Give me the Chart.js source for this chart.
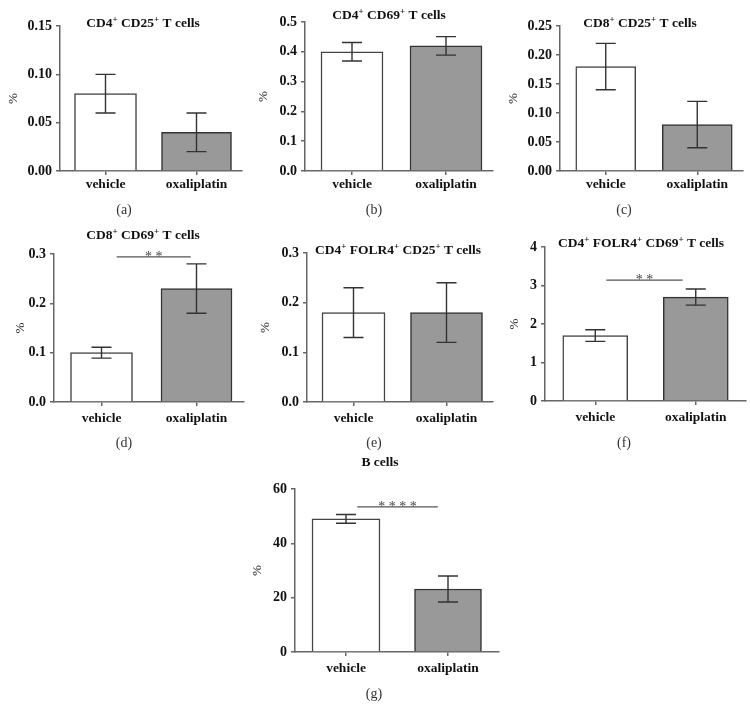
<!DOCTYPE html>
<html><head><meta charset="utf-8">
<script src="https://cdn.jsdelivr.net/npm/chart.js@4.4.1/dist/chart.umd.min.js"></script>
<style>
html,body{margin:0;padding:0;background:#fff;}
body{width:750px;height:721px;position:relative;overflow:hidden;}
canvas{position:absolute;}
</style></head><body>
<script>
// ---------------- DATA ----------------
const categories = ['vehicle', 'oxaliplatin'];

const meansA = [0.08, 0.04];  const errA = [0.02, 0.02];
const meansB = [0.40, 0.42];  const errB = [0.031, 0.031];
const meansC = [0.18, 0.08];  const errC = [0.04, 0.04];
const meansD = [0.10, 0.23];  const errD = [0.011, 0.05];
const meansE = [0.18, 0.18];  const errE = [0.05, 0.06];
const meansF = [1.70, 2.70];  const errF = [0.15, 0.21];
const meansG = [49.0, 23.2];  const errG = [1.6, 4.8];

const ticksA = ['0.00', '0.05', '0.10', '0.15'];
const ticksB = ['0.0', '0.1', '0.2', '0.3', '0.4', '0.5'];
const ticksC = ['0.00', '0.05', '0.10', '0.15', '0.20', '0.25'];
const ticksD = ['0.0', '0.1', '0.2', '0.3'];
const ticksE = ['0.0', '0.1', '0.2', '0.3'];
const ticksF = ['0', '1', '2', '3', '4'];
const ticksG = ['0', '20', '40', '60'];

// significance brackets: from/to in category index units, level in data units
const sigD = {from: 0.16, to: 0.94, level: 0.294, label: '**'};
const sigF = {from: 0.11, to: 0.87, level: 3.14, label: '**'};
const sigG = {from: 0.11, to: 0.90, level: 53.4, label: '****'};

const titleA = [['CD4'], ['+', 1], [' CD25'], ['+', 1], [' T cells']];
const titleB = [['CD4'], ['+', 1], [' CD69'], ['+', 1], [' T cells']];
const titleC = [['CD8'], ['+', 1], [' CD25'], ['+', 1], [' T cells']];
const titleD = [['CD8'], ['+', 1], [' CD69'], ['+', 1], [' T cells']];
const titleE = [['CD4'], ['+', 1], [' FOLR4'], ['+', 1], [' CD25'], ['+', 1], [' T cells']];
const titleF = [['CD4'], ['+', 1], [' FOLR4'], ['+', 1], [' CD69'], ['+', 1], [' T cells']];
const titleG = [['B cells']];

// ---------------- LAYOUT (page pixels) ----------------
const FAM = '"Liberation Serif", "Times New Roman", serif';
const panels = [
  {id:'a', means:meansA, errs:errA, ticks:ticksA, title:titleA, cap:'(a)', sig:null,
   box:[0,0,250,225], area:[60,242,26,171], titlePos:[143,27], capPos:[124,210], labelPad:1, bw:[62,70]},
  {id:'b', means:meansB, errs:errB, ticks:ticksB, title:titleB, cap:'(b)', sig:null,
   box:[250,0,250,225], area:[305,493,22,171], titlePos:[389,19], capPos:[374,210], labelPad:1, bw:[62,72]},
  {id:'c', means:meansC, errs:errC, ticks:ticksC, title:titleC, cap:'(c)', sig:null,
   box:[500,0,250,225], area:[560,743,26,171], titlePos:[640,27], capPos:[624,210], labelPad:1, bw:[60,70]},
  {id:'d', means:meansD, errs:errD, ticks:ticksD, title:titleD, cap:'(d)', sig:sigD,
   box:[7,225,243,235], area:[54,244,254,402], titlePos:[143,239], capPos:[124,443], labelPad:4, bw:[62,71]},
  {id:'e', means:meansE, errs:errE, ticks:ticksE, title:titleE, cap:'(e)', sig:null,
   box:[252,225,248,235], area:[307,493,253,402], titlePos:[398,254], capPos:[374,443], labelPad:4, bw:[63,72]},
  {id:'f', means:meansF, errs:errF, ticks:ticksF, title:titleF, cap:'(f)', sig:sigF,
   box:[501,225,249,235], area:[545,746,247,401], titlePos:[641,247], capPos:[624,443], labelPad:4, bw:[65,65]},
  {id:'g', means:meansG, errs:errG, ticks:ticksG, title:titleG, cap:'(g)', sig:sigG,
   box:[244,445,270,265], area:[295,499,489,652], titlePos:[380,466], capPos:[374,694], labelPad:4, bw:[68,67]}
];

// ---------------- PLUGINS ----------------
const decor = {
  id: 'decor',
  afterDatasetsDraw(chart, args, o) {
    const {ctx} = chart;
    const x = chart.scales.x, y = chart.scales.y;
    ctx.save();
    // error bars
    ctx.strokeStyle = '#333'; ctx.lineWidth = 1.4;
    o.means.forEach((m, i) => {
      const el = chart.getDatasetMeta(i).data[i];
      const px = el.x;
      const yt = y.getPixelForValue(m + o.errs[i]);
      const yb = y.getPixelForValue(m - o.errs[i]);
      ctx.beginPath();
      ctx.moveTo(px, yt); ctx.lineTo(px, yb);
      ctx.moveTo(px - 10, yt); ctx.lineTo(px + 10, yt);
      ctx.moveTo(px - 10, yb); ctx.lineTo(px + 10, yb);
      ctx.stroke();
    });
    // significance
    if (o.sig) {
      const x1 = x.getPixelForValue(o.sig.from), x2 = x.getPixelForValue(o.sig.to);
      const yy = y.getPixelForValue(o.sig.level);
      ctx.strokeStyle = '#555'; ctx.lineWidth = 1.3;
      ctx.beginPath(); ctx.moveTo(x1, yy); ctx.lineTo(x2, yy); ctx.stroke();
      ctx.fillStyle = '#444'; ctx.font = '14px ' + FAM;
      ctx.textAlign = 'center'; ctx.textBaseline = 'alphabetic';
      ctx.fillText(o.sig.label.split('').join(' '), (x1 + x2) / 2, yy + 4);
    }
    ctx.restore();
  },
  afterDraw(chart, args, o) {
    const {ctx} = chart;
    ctx.save();
    const big = 'bold 13.5px ' + FAM, small = 'bold 9px ' + FAM;
    let w = 0;
    const segs = o.title.map(s => {
      ctx.font = s[1] ? small : big;
      const sw = ctx.measureText(s[0]).width; w += sw;
      return {t: s[0], sup: !!s[1], w: sw};
    });
    let tx = o.titlePos[0] - w / 2;
    ctx.fillStyle = '#111'; ctx.textAlign = 'left'; ctx.textBaseline = 'alphabetic';
    segs.forEach(s => {
      ctx.font = s.sup ? small : big;
      ctx.fillText(s.t, tx, s.sup ? o.titlePos[1] - 5 : o.titlePos[1]);
      tx += s.w;
    });
    ctx.font = '14px ' + FAM; ctx.fillStyle = '#333'; ctx.textAlign = 'center'; ctx.textBaseline = 'middle';
    ctx.fillText(o.cap, o.capPos[0], o.capPos[1]);
    ctx.restore();
  }
};

// ---------------- BUILD ----------------
panels.forEach(p => {
  const [bl, bt, bw, bh] = p.box;
  const [al, ar, at, ab] = p.area;
  const cv = document.createElement('canvas');
  cv.width = bw; cv.height = bh;
  cv.style.left = bl + 'px'; cv.style.top = bt + 'px';
  cv.style.width = bw + 'px'; cv.style.height = bh + 'px';
  document.body.appendChild(cv);
  const tickVals = p.ticks.map(parseFloat);
  const axisCol = '#666';
  new Chart(cv, {
    type: 'bar',
    data: {
      labels: categories,
      datasets: [
        {data: [p.means[0], null], backgroundColor: '#ffffff', borderColor: '#444', borderWidth: 1.5, barThickness: p.bw[0]},
        {data: [null, p.means[1]], backgroundColor: '#999999', borderColor: '#333', borderWidth: 1.5, barThickness: p.bw[1]}
      ]
    },
    options: {
      responsive: false, animation: false, events: [],
      devicePixelRatio: 1,
      datasets: {bar: {grouped: false}},
      layout: {padding: {left: 0, top: at - bt, right: (bl + bw) - ar, bottom: 0}},
      plugins: {
        legend: {display: false}, title: {display: false}, tooltip: {enabled: false},
        decor: {means: p.means, errs: p.errs, sig: p.sig, title: p.title, cap: p.cap,
                titlePos: [p.titlePos[0] - bl, p.titlePos[1] - bt],
                capPos: [p.capPos[0] - bl, p.capPos[1] - bt]}
      },
      scales: {
        x: {
          type: 'category', offset: true,
          grid: {display: true, offset: false, drawOnChartArea: false, drawTicks: true, tickLength: 4, color: axisCol, lineWidth: 1.5},
          border: {display: true, color: axisCol, width: 1.5},
          ticks: {font: {family: FAM, size: 13.5, weight: 'bold'}, color: '#111', padding: p.labelPad, maxRotation: 0, autoSkip: false},
          afterFit: s => { s.height = (bt + bh) - ab; }
        },
        y: {
          min: tickVals[0], max: tickVals[tickVals.length - 1],
          afterBuildTicks: s => { s.ticks = tickVals.map(v => ({value: v})); },
          grid: {display: true, drawOnChartArea: false, drawTicks: true, tickLength: 4, color: axisCol, lineWidth: 1.5},
          border: {display: true, color: axisCol, width: 1.5},
          ticks: {font: {family: FAM, size: 14, weight: 'bold'}, color: '#111', padding: 4,
                  callback: (v, i) => p.ticks[i]},
          title: {display: true, text: '%', font: {family: FAM, size: 13}, color: '#222', padding: {top: 6, bottom: 0}},
          afterFit: s => { s.width = al - bl; }
        }
      }
    },
    plugins: [decor]
  });
});
</script>
</body></html>
